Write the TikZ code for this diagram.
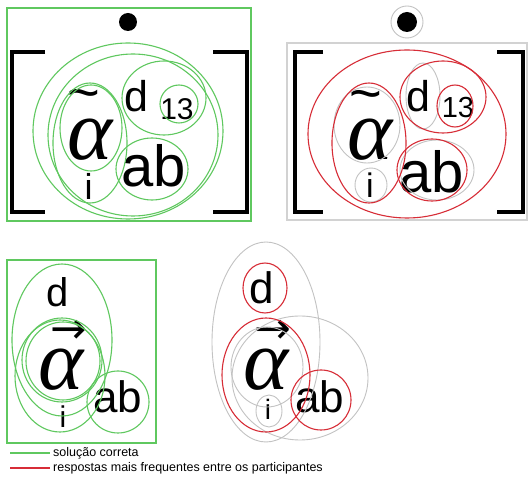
\documentclass[tikz,border=0pt]{standalone}
\usepackage{fontspec}
\setmainfont{Liberation Sans}
\newfontfamily\serifit{Liberation Serif}[ItalicFont={Liberation Serif Italic}]
\newfontfamily\dv{DejaVu Sans}
\definecolor{grn}{RGB}{95,200,95}
\definecolor{rd}{RGB}{215,45,55}
\definecolor{gr}{RGB}{195,195,195}
\definecolor{grl}{RGB}{210,210,210}
\newcommand{\fs}[1]{\fontsize{#1}{#1}\selectfont}
\tikzset{
  g/.style={draw=grn,line width=1.1pt},
  r/.style={draw=rd,line width=1.1pt},
  gy/.style={draw=gr,line width=0.9pt},
  brk/.style={draw=black,line width=4pt,line join=miter},
  lbl/.style={inner sep=0pt,anchor=base},
  alph/.style={inner sep=0pt,anchor=base,font=\serifit\itshape\fs{86}},
  tld/.style={inner sep=0pt,font=\fs{56}},
  vecarrow/.style={inner sep=0pt,font=\dv\fs{44}},
}
\begin{document}
\begin{tikzpicture}[x=1pt,y=-1pt]
\useasboundingbox (0,0) rectangle (531,486);
\fill[white] (0,0) rectangle (531,486);
% ---------- panel 1 ----------
\draw[grn,line width=1.3pt] (7,8) rectangle (251,221);
\fill[black] (128,22) circle [radius=9pt];
\draw[brk] (45,52) -- (12,52) -- (12,212) -- (45,212);
\draw[brk] (213,52) -- (247,52) -- (247,212) -- (213,212);
\node[alph] (a1) at (90,160) {α};
\node[tld] (t1a) at (84,100) {\textasciitilde};
\node[lbl,font=\fs{36}] (i1) at (88.5,200) {i};
\node[lbl,font=\fs{43}] (d1) at (136,112) {d};
\node[lbl,font=\fs{30}] (n1) at (177,120) {13};
\node[lbl,font=\fs{58}] (ab1) at (154,187) {ab};
\draw[g] (128,131) ellipse [x radius=95pt, y radius=88pt];
\draw[g] (133,135) ellipse [x radius=85pt, y radius=81pt];
\draw[g] (90,143) ellipse [x radius=37pt, y radius=60pt];
\draw[g] (91,128) ellipse [x radius=31pt, y radius=43pt];
\draw[g] (164,98) ellipse [x radius=42pt, y radius=37pt];
\draw[g] (179,104) ellipse [x radius=19pt, y radius=19pt];
\draw[g] (152,169) ellipse [x radius=36pt, y radius=31pt];
% ---------- panel 2 ----------
\draw[grl,line width=1.1pt] (287,43) rectangle (527,220);
\draw[gy] (407,22) circle [radius=16pt];
\fill[black] (407,22) circle [radius=10pt];
\draw[brk] (323,52) -- (295,52) -- (295,212) -- (323,212);
\draw[brk] (497,52) -- (523,52) -- (523,212) -- (497,212);
\node[alph] (a2) at (370,160) {α};
\node[tld] (t2a) at (366,101) {\textasciitilde};
\node[lbl,font=\fs{34}] (i2) at (370,198) {i};
\node[lbl,font=\fs{43}] (d2) at (418,112) {d};
\node[lbl,font=\fs{29}] (n2) at (458,118) {13};
\node[lbl,font=\fs{58}] (ab2) at (432,193) {ab};
\draw[gy] (367,125) ellipse [x radius=33pt, y radius=38pt];
\draw[gy] (371,185) ellipse [x radius=16pt, y radius=17pt];
\draw[gy] (423,96) ellipse [x radius=17pt, y radius=33pt];
\draw[gy] (437,170) ellipse [x radius=37pt, y radius=30pt];
\draw[r] (407,134) ellipse [x radius=99pt, y radius=84pt];
\draw[r] (369,143) ellipse [x radius=37pt, y radius=60pt];
\draw[r] (443,97) ellipse [x radius=43pt, y radius=36pt];
\draw[r] (455,106) ellipse [x radius=18pt, y radius=21pt];
\draw[r] (432,170) ellipse [x radius=35pt, y radius=31pt];
% ---------- panel 3 ----------
\draw[grn,line width=1.3pt] (7,260) rectangle (156,443);
\node[lbl,font=\fs{40}] (d3) at (58,307) {d};
\node[alph] (a3) at (61,390) {α};
\node[vecarrow] (v3) at (69,332) {→};
\node[lbl,font=\fs{30}] (i3) at (63,428) {i};
\node[lbl,font=\fs{44}] (ab3) at (118,413) {ab};
\draw[g] (62,340) ellipse [x radius=50pt, y radius=76pt];
\draw[g] (60,376) ellipse [x radius=45pt, y radius=56pt];
\draw[g] (62,360) ellipse [x radius=40pt, y radius=42pt];
\draw[g] (63,361) ellipse [x radius=37pt, y radius=39pt];
\draw[g] (118,402) ellipse [x radius=31pt, y radius=31pt];
% ---------- panel 4 ----------
\node[lbl,font=\fs{44}] (d4) at (262,304) {d};
\node[alph] (a4) at (266,390) {α};
\node[vecarrow] (v4) at (273,332) {→};
\node[lbl,font=\fs{28}] (i4) at (268,420) {i};
\node[lbl,font=\fs{44}] (ab4) at (320,413) {ab};
\draw[gy] (266,342) ellipse [x radius=54pt, y radius=100pt];
\draw[gy] (300,378) ellipse [x radius=68pt, y radius=62pt];
\draw[gy] (267,367) ellipse [x radius=36pt, y radius=40pt];
\draw[gy] (269,411) ellipse [x radius=13pt, y radius=16pt];
\draw[r] (265,288) ellipse [x radius=22pt, y radius=25pt];
\draw[r] (266,375) ellipse [x radius=44pt, y radius=57pt];
\draw[r] (321,400) ellipse [x radius=30pt, y radius=30pt];
% ---------- legend ----------
\coordinate (lg1) at (10,453);
\coordinate (lg2) at (10,468);
\draw[grn,line width=1.3pt] (lg1) -- ++(40,0) coordinate (lg1e);
\draw[rd,line width=1.3pt] (lg2) -- ++(40,0) coordinate (lg2e);
\node[inner sep=0pt,anchor=west,font=\fs{12.5}] (tx1) at ([xshift=3pt]lg1e) {solução correta};
\node[inner sep=0pt,anchor=west,font=\fs{12.5}] (tx2) at ([xshift=3pt]lg2e) {respostas mais frequentes entre os participantes};
\end{tikzpicture}
\end{document}
